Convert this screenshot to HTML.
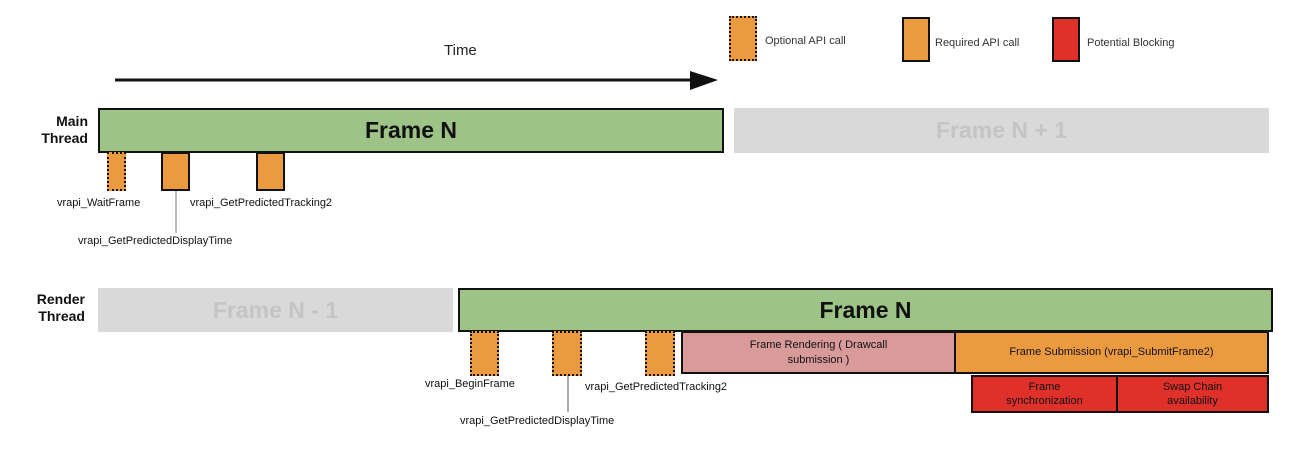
<!DOCTYPE html>
<html><head><style>
body{margin:0;width:1296px;height:450px;background:#fff;position:relative;overflow:hidden;font-family:"Liberation Sans",Arial,sans-serif}
.a{position:absolute;box-sizing:border-box}
.g{background:#9ec386;border:2px solid #111}
.gr{background:#d9d9d9;color:#c4c4c4;font-weight:bold;font-size:23px;display:flex;align-items:center;justify-content:center}
.big{font-weight:bold;font-size:23px;display:flex;align-items:center;justify-content:center;color:#111}
.opt{background:#eb9a40;border:2px dotted #111}
.req{background:#eb9a40;border:2px solid #111}
.lbl{font-size:11px;color:#111;white-space:nowrap}
.lg{font-size:11px;color:#333;white-space:nowrap}
.th{font-weight:bold;font-size:14px;text-align:right;line-height:17px;color:#111}
.bx{display:flex;align-items:center;justify-content:center;text-align:center;font-size:11px;line-height:15px;color:#111;border:2px solid #111}
</style></head><body>
<div class="a" style="left:444px;top:42px;font-size:15px;color:#222">Time</div>
<svg class="a" style="left:0;top:0" width="730" height="100"><line x1="115" y1="80" x2="695" y2="80" stroke="#111" stroke-width="3"/><polygon points="690,71 718,80 690,90" fill="#111"/></svg>

<div class="a opt" style="left:729px;top:16px;width:28px;height:45px"></div>
<div class="a lg" style="left:765px;top:35px">Optional API call</div>
<div class="a req" style="left:902px;top:17px;width:28px;height:45px"></div>
<div class="a lg" style="left:935px;top:37px">Required API call</div>
<div class="a" style="left:1052px;top:17px;width:28px;height:45px;background:#e0302a;border:2px solid #111"></div>
<div class="a lg" style="left:1087px;top:37px">Potential Blocking</div>

<div class="a th" style="left:20px;top:113px;width:68px">Main<br>Thread</div>
<div class="a g big" style="left:98px;top:108px;width:626px;height:45px">Frame N</div>
<div class="a gr" style="left:734px;top:108px;width:535px;height:45px">Frame N + 1</div>
<div class="a opt" style="left:107px;top:152px;width:19px;height:39px"></div>
<div class="a req" style="left:161px;top:152px;width:29px;height:39px"></div>
<div class="a req" style="left:256px;top:152px;width:29px;height:39px"></div>
<div class="a lbl" style="left:57px;top:197px">vrapi_WaitFrame</div>
<div class="a lbl" style="left:190px;top:197px">vrapi_GetPredictedTracking2</div>
<div class="a" style="left:175px;top:191px;width:2px;height:42px;background:#bbb"></div>
<div class="a lbl" style="left:78px;top:235px">vrapi_GetPredictedDisplayTime</div>

<div class="a th" style="left:10px;top:291px;width:75px">Render<br>Thread</div>
<div class="a gr" style="left:98px;top:288px;width:355px;height:44px">Frame N - 1</div>
<div class="a g big" style="left:458px;top:288px;width:815px;height:44px">Frame N</div>
<div class="a opt" style="left:470px;top:331px;width:29px;height:45px"></div>
<div class="a opt" style="left:552px;top:331px;width:30px;height:45px"></div>
<div class="a opt" style="left:645px;top:331px;width:30px;height:45px"></div>
<div class="a bx" style="left:681px;top:331px;width:275px;height:43px;background:#d99a9a">Frame Rendering ( Drawcall<br>submission )</div>
<div class="a bx" style="left:954px;top:331px;width:315px;height:43px;background:#eb9a40">Frame Submission (vrapi_SubmitFrame2)</div>
<div class="a bx" style="left:971px;top:375px;width:147px;height:38px;background:#e0302a;line-height:14px">Frame<br>synchronization</div>
<div class="a bx" style="left:1116px;top:375px;width:153px;height:38px;background:#e0302a;line-height:14px">Swap Chain<br>availability</div>
<div class="a lbl" style="left:425px;top:378px">vrapi_BeginFrame</div>
<div class="a lbl" style="left:585px;top:381px">vrapi_GetPredictedTracking2</div>
<div class="a" style="left:567px;top:376px;width:2px;height:36px;background:#aaa"></div>
<div class="a lbl" style="left:460px;top:415px">vrapi_GetPredictedDisplayTime</div>
</body></html>
